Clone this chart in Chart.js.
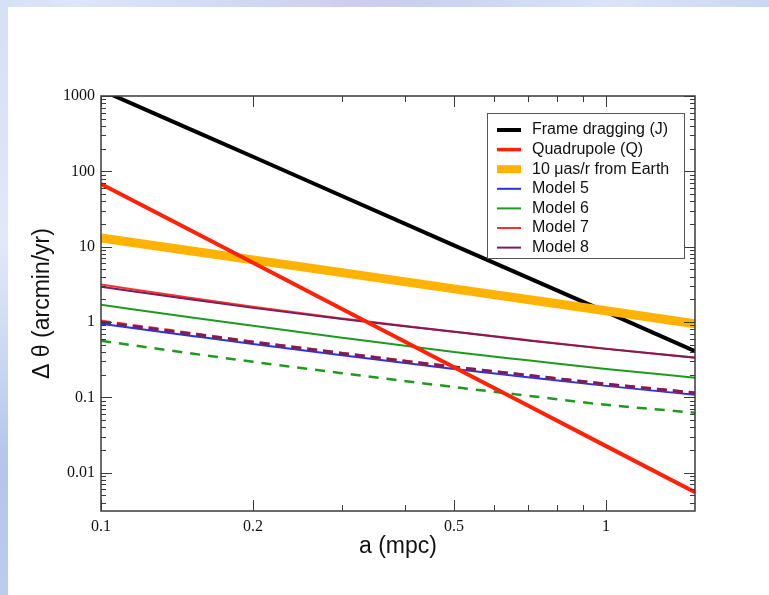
<!DOCTYPE html>
<html>
<head>
<meta charset="utf-8">
<script src="https://cdn.jsdelivr.net/npm/chart.js@4.4.1/dist/chart.umd.min.js"></script>
<style>
  html, body { margin: 0; padding: 0; }
  body {
    width: 769px; height: 595px; overflow: hidden; position: relative;
    background-color: #c3d2f1;
    background-image:
      radial-gradient(circle at 10% 0%, rgba(255,255,255,0.45), rgba(255,255,255,0) 30%),
      radial-gradient(circle at 45% 1%, rgba(220,200,235,0.5), rgba(255,255,255,0) 25%),
      radial-gradient(circle at 0% 40%, rgba(255,255,255,0.5), rgba(255,255,255,0) 25%),
      radial-gradient(circle at 0% 80%, rgba(170,190,235,0.6), rgba(255,255,255,0) 25%),
      radial-gradient(circle at 80% 0%, rgba(255,255,255,0.4), rgba(255,255,255,0) 25%);
  }
  #panel { position: absolute; left: 8px; top: 7px; right: 0; bottom: 0; background: #ffffff; }
  #wrap { position: absolute; left: 0; top: 0; width: 769px; height: 595px; }
</style>
</head>
<body>
<div id="panel"></div>
<div id="wrap"><canvas id="c"></canvas></div>
<script>
// Orbital radius a (mpc) at which every curve is sampled
const radii = [0.1, 0.15, 0.2, 0.3, 0.5, 0.7, 1.0, 1.5];

// Precession rates, arcmin/yr
const frameDragging = [1200, 363, 156, 47.1, 10.4, 3.88, 1.36, 0.41];
const quadrupole    = [68, 16.6, 6.1, 1.49, 0.251, 0.078, 0.0225, 0.0055];
const earthLimit    = [13.1, 8.83, 6.68, 4.52, 2.75, 1.99, 1.41, 0.95];
const model5 = [0.946, 0.658, 0.51, 0.362, 0.238, 0.185, 0.142, 0.108];
const model6 = [1.69, 1.16, 0.89, 0.619, 0.40, 0.31, 0.238, 0.182];
const model7 = [3.15, 2.10, 1.60, 1.11, 0.745, 0.575, 0.442, 0.337];
const model8 = [2.93, 2.00, 1.54, 1.096, 0.74, 0.57, 0.44, 0.335];
const model6Dashed = [0.563, 0.385, 0.296, 0.209, 0.137, 0.105, 0.0796, 0.0625];
const model7Dashed = [1.03, 0.71, 0.545, 0.386, 0.253, 0.196, 0.150, 0.1145];
const model8Dashed = [1.0, 0.70, 0.54, 0.383, 0.252, 0.196, 0.150, 0.1145];

// Axis ticks
const xTickValues = [0.1, 0.2, 0.5, 1];
const xTickLabels = ['0.1', '0.2', '0.5', '1'];
const xMinorTicks = [0.3, 0.4, 0.6, 0.7, 0.8, 0.9];
const yTickValues = [0.01, 0.1, 1, 10, 100, 1000];
const yTickLabels = ['0.01', '0.1', '1', '10', '100', '1000'];

const serif = '"Liberation Serif", "Times New Roman", serif';
const sans = '"Liberation Sans", Arial, Helvetica, sans-serif';

function series(values) {
  return radii.map((a, i) => ({ x: a, y: values[i] }));
}

function line(label, values, color, width, order, opts) {
  return Object.assign({
    label, data: series(values), borderColor: color, backgroundColor: color,
    borderWidth: width, pointRadius: 0, fill: false, order, clip: 0,
    tension: 0, legendEntry: true, legendWidth: width
  }, opts || {});
}

const datasets = [
  line('Frame dragging (J)', frameDragging, '#000000', 4, 2, { legendWidth: 4 }),
  line('Quadrupole (Q)', quadrupole, '#ff2205', 4, 0, { legendWidth: 3.5 }),
  line('10 \u03bcas/r from Earth', earthLimit, '#ffb300', 9, 1, { legendWidth: 8 }),
  line('Model 5', model5, '#2630ee', 2, 9, { cubicInterpolationMode: 'monotone' }),
  line('Model 6', model6, '#1e9a1e', 2, 8, { cubicInterpolationMode: 'monotone' }),
  line('Model 7', model7, '#ff3030', 2, 7, { cubicInterpolationMode: 'monotone' }),
  line('Model 8', model8, '#7a1d5a', 2, 6, { cubicInterpolationMode: 'monotone' }),
  line('Model 6 (dashed)', model6Dashed, '#1e9a1e', 2.5, 5,
       { cubicInterpolationMode: 'monotone', borderDash: [10, 8], legendEntry: false }),
  line('Model 7 (dashed)', model7Dashed, '#ff3a3a', 3, 4,
       { cubicInterpolationMode: 'monotone', borderDash: [10, 6], legendEntry: false }),
  line('Model 8 (dashed)', model8Dashed, '#7a1d5a', 3, 3,
       { cubicInterpolationMode: 'monotone', borderDash: [10, 6], legendEntry: false })
];

// Plot frame with inward ticks on all four sides, plus a boxed legend
const framePlugin = {
  id: 'frameAndLegend',
  afterDraw(chart) {
    const { ctx, chartArea: { left, top, right, bottom }, scales: { x, y } } = chart;
    ctx.save();
    ctx.strokeStyle = '#3a3a3a';
    ctx.lineCap = 'butt';

    const seg = (x1, y1, x2, y2) => { ctx.beginPath(); ctx.moveTo(x1, y1); ctx.lineTo(x2, y2); ctx.stroke(); };

    ctx.lineWidth = 1;
    xTickValues.forEach(v => {
      const px = Math.round(x.getPixelForValue(v)) + 0.5;
      seg(px, bottom, px, bottom - 11);
      seg(px, top, px, top + 11);
    });
    xMinorTicks.forEach(v => {
      const px = Math.round(x.getPixelForValue(v)) + 0.5;
      seg(px, bottom, px, bottom - 6);
      seg(px, top, px, top + 6);
    });
    yTickValues.forEach(v => {
      const py = Math.round(y.getPixelForValue(v)) + 0.5;
      seg(left, py, left + 11, py);
      seg(right, py, right - 11, py);
    });
    for (let d = 0.001; d < 1000; d *= 10) {
      for (let k = 2; k <= 9; k++) {
        const v = k * d;
        if (v <= y.min || v >= y.max) continue;
        const py = Math.round(y.getPixelForValue(v)) + 0.5;
        seg(left, py, left + 5, py);
        seg(right, py, right - 5, py);
      }
    }

    ctx.lineWidth = 1.5;
    ctx.strokeRect(left, top, right - left, bottom - top);

    // legend
    const entries = chart.data.datasets.filter(ds => ds.legendEntry);
    const bx = right - 208, by = top + 17, bw = 197, bh = 145;
    ctx.fillStyle = '#ffffff';
    ctx.fillRect(bx, by, bw, bh);
    ctx.lineWidth = 1;
    ctx.strokeStyle = '#555555';
    ctx.strokeRect(bx + 0.5, by + 0.5, bw, bh);
    ctx.font = '16px ' + sans;
    ctx.textBaseline = 'middle';
    ctx.textAlign = 'left';
    entries.forEach((ds, i) => {
      const ry = by + 17 + i * 19.6;
      ctx.strokeStyle = ds.borderColor;
      ctx.lineWidth = ds.legendWidth;
      seg(bx + 10, ry, bx + 34, ry);
      ctx.fillStyle = '#111111';
      ctx.fillText(ds.label, bx + 45, ry);
    });
    ctx.restore();
  }
};

new Chart(document.getElementById('c'), {
  type: 'line',
  data: { datasets },
  options: {
    responsive: true,
    maintainAspectRatio: false,
    animation: false,
    layout: { padding: { top: 96, right: 74, left: 0, bottom: 0 } },
    plugins: { legend: { display: false }, tooltip: { enabled: false } },
    scales: {
      x: {
        type: 'logarithmic', min: 0.1, max: 1.5,
        grid: { display: false, drawTicks: false },
        border: { display: false },
        afterBuildTicks: s => { s.ticks = xTickValues.map(v => ({ value: v })); },
        afterFit: s => { s.height = 84; },
        ticks: {
          autoSkip: false, maxRotation: 0, padding: 6, color: '#111111',
          font: { family: serif, size: 16 },
          callback: v => { const i = xTickValues.indexOf(v); return i >= 0 ? xTickLabels[i] : ''; }
        },
        title: {
          display: true, text: 'a (mpc)', color: '#111111',
          font: { family: sans, size: 23 }, padding: { top: 0, bottom: 35 }
        }
      },
      y: {
        type: 'logarithmic', min: 0.0031, max: 1000,
        grid: { display: false, drawTicks: false },
        border: { display: false },
        afterBuildTicks: s => { s.ticks = yTickValues.map(v => ({ value: v })); },
        afterFit: s => { s.width = 101; },
        ticks: {
          autoSkip: false, padding: 6, color: '#111111',
          font: { family: serif, size: 16 },
          callback: v => { const i = yTickValues.indexOf(v); return i >= 0 ? yTickLabels[i] : ''; }
        },
        title: {
          display: true, text: '\u0394 \u03b8 (arcmin/yr)', color: '#111111',
          font: { family: sans, size: 23 }, padding: { top: 29, bottom: 0 }
        }
      }
    }
  },
  plugins: [framePlugin]
});
</script>
</body>
</html>
